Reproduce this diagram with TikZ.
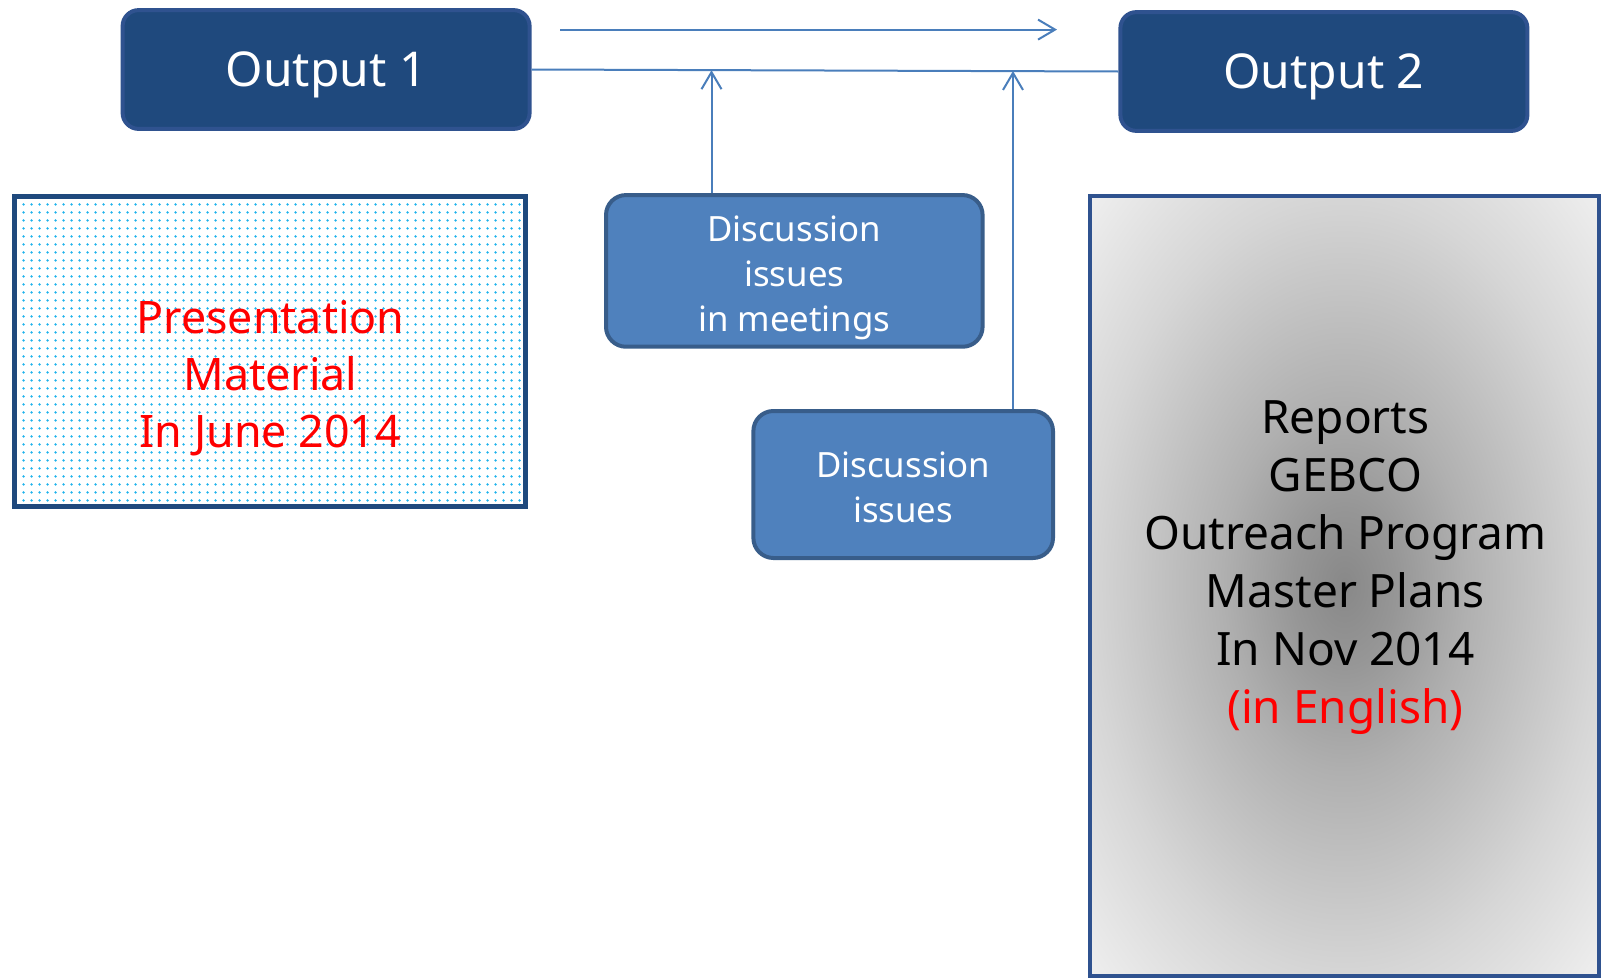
\documentclass[tikz,border=0pt]{standalone}
\usepackage{fontspec}
\setmainfont{Noto Sans}
\usepackage{xcolor}
\usetikzlibrary{arrows.meta,patterns.meta}
\definecolor{navy}{RGB}{31,73,125}
\definecolor{navyedge}{RGB}{47,82,143}
\definecolor{midblue}{RGB}{79,129,189}
\definecolor{midedge}{RGB}{56,93,138}
\definecolor{linkblue}{RGB}{74,126,187}
\definecolor{dotblue}{RGB}{30,178,236}
\definecolor{shadecenter}{RGB}{136,136,136}
\definecolor{shadeinner}{RGB}{150,150,150}
\definecolor{shademid}{RGB}{176,176,176}
\definecolor{shadeedge}{RGB}{214,214,214}
\definecolor{shadecorner}{RGB}{240,240,240}
\pgfdeclareradialshading{reportshade}{\pgfpoint{0bp}{0bp}}{color(0bp)=(shadecenter); color(5bp)=(shadeinner); color(12bp)=(shademid); color(25bp)=(shadeedge); color(36bp)=(shadecorner); color(50bp)=(shadecorner)}

\begin{document}
\begin{tikzpicture}[x=0.5pt, y=-0.5pt,
        outbox/.style={rectangle, rounded corners=8pt, draw=navyedge, line width=2pt, fill=navy, text=white, minimum width=203.5pt, minimum height=59.4pt, text depth=0pt, font=\fontsize{24}{29}\selectfont},
        discbox/.style={rectangle, rounded corners=10pt, draw=midedge, line width=2pt, fill=midblue, text=white, align=center, font=\fontsize{17.4}{22.5}\selectfont},
        presbox/.style={rectangle, draw=navy, line width=2.5pt, pattern={Dots[radius=0.75pt,distance=4pt]}, pattern color=dotblue, minimum width=255.5pt, minimum height=155pt, text=red, align=center, text height=100.3pt, font=\fontsize{22.4}{28.6}\selectfont},
        repbox/.style={rectangle, draw=navyedge, line width=2pt, shading=reportshade, minimum width=254.6pt, minimum height=389.7pt},
        reptext/.style={align=center, font=\fontsize{23}{29}\selectfont},
        link/.style={line width=1pt, linkblue},
        arrow/.style={-{Straight Barb[length=8.5pt,width=10pt]}, line width=1pt, linkblue}]

        \useasboundingbox (0,0) rectangle (1603,980);

        % Outputs
        \node[outbox] (out1) at (326.1,69.5) {Output 1};
        \node[outbox] (out2) at (1323.9,71.5) {Output 2};

        % Material
        \node[presbox] (pres) at (270.4,351.6) {Presentation\\Material\\In June 2014};

        % Discussion
        \node[discbox, minimum width=188.3pt, minimum height=74.7pt, text height=65pt] (disc1) at (794.3,270.9) {Discussion\\issues\\in meetings};
        \node[discbox, minimum width=149.8pt, minimum height=73.5pt, text height=37.9pt] (disc2) at (903.2,484.5) {Discussion\\issues};

        % Reports
        \node[repbox] (reports) at (1344.4,585.9) {};
        \node[reptext] (repnote) at (1345.4,567.8) {Reports\\GEBCO\\Outreach Program\\Master Plans\\In Nov 2014\\\textcolor{red}{(in English)}};

        % Arrows
        \coordinate (flowstart) at (560,29.6);
        \coordinate (flowend) at (1057,29.6);
        \coordinate (join1) at (711.5,70.2);
        \coordinate (join2) at (1013,71);

        \draw[arrow] (flowstart) -- (flowend);
        \draw[link] (out1.east) -- (out2.west);
        \draw[arrow] (disc1.north -| join1) -- (join1);
        \draw[arrow] (disc2.north -| join2) -- (join2);

    \end{tikzpicture}
\end{document}
